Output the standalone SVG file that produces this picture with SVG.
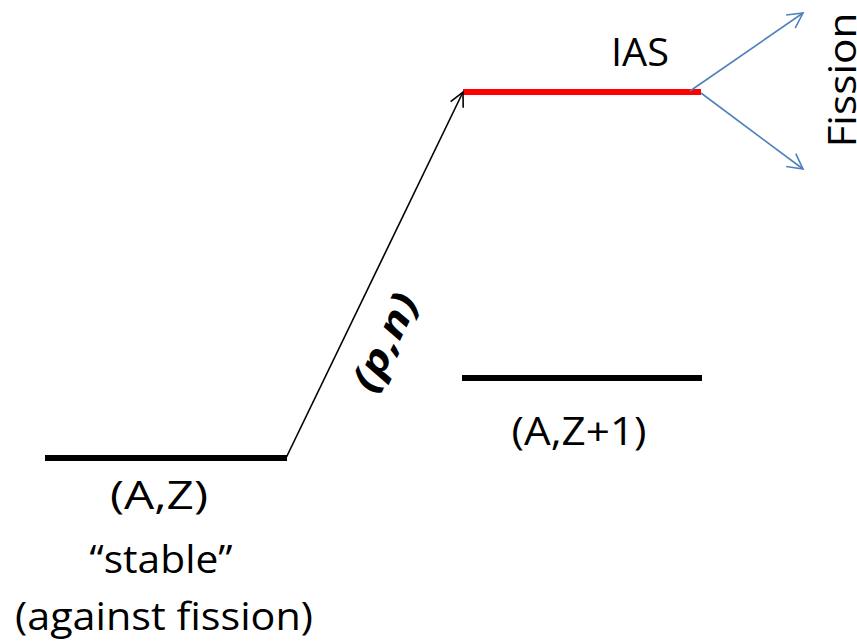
<svg xmlns="http://www.w3.org/2000/svg" width="857" height="642" viewBox="0 0 857 642">
  <defs>
    <marker id="ahBlack" markerUnits="userSpaceOnUse" markerWidth="24" markerHeight="24" refX="16" refY="8" orient="auto" overflow="visible">
      <path d="M2,1 L16,8 L2,15" fill="none" stroke="#000" stroke-width="1.6"/>
    </marker>
    <marker id="ahBlue" markerUnits="userSpaceOnUse" markerWidth="24" markerHeight="24" refX="16" refY="8" orient="auto" overflow="visible">
      <path d="M1,0 L16,8 L1,16" fill="none" stroke="#4f81bd" stroke-width="1.6"/>
    </marker>
    <style>
      .lbl { font-family: "Open Sans", "Noto Sans", "Liberation Sans", sans-serif; font-size: 38px; fill: #000; }
      .lvl { stroke: #000; stroke-width: 6; }
      .ias { stroke: #ff0000; stroke-width: 6; }
      .arr { fill: none; stroke: #000; stroke-width: 1.6; }
      .fis { fill: none; stroke: #4f81bd; stroke-width: 1.6; }
    </style>
  </defs>
  <rect width="857" height="642" fill="#fff"/>

  <g id="level-AZ">
    <line class="lvl" x1="45" y1="458" x2="287" y2="458"/>
    <text class="lbl" x="159" y="509" text-anchor="middle" textLength="98" lengthAdjust="spacingAndGlyphs">(A,Z)</text>
    <text class="lbl" x="161" y="573" text-anchor="middle" textLength="143" lengthAdjust="spacingAndGlyphs">“stable”</text>
    <text class="lbl" x="164" y="630" text-anchor="middle" textLength="298" lengthAdjust="spacingAndGlyphs">(against fission)</text>
  </g>

  <g id="level-AZ1">
    <line class="lvl" x1="462" y1="378" x2="702" y2="378"/>
    <text class="lbl" x="579" y="445" text-anchor="middle" textLength="135" lengthAdjust="spacingAndGlyphs">(A,Z+1)</text>
  </g>

  <g id="level-IAS">
    <line class="ias" x1="463" y1="92" x2="701" y2="92"/>
    <text class="lbl" x="640" y="66" text-anchor="middle" textLength="58" lengthAdjust="spacingAndGlyphs">IAS</text>
  </g>

  <g id="fission-label">
    <text class="lbl" transform="translate(856,80) rotate(-90)" x="0" y="0" text-anchor="middle" textLength="135" lengthAdjust="spacingAndGlyphs">Fission</text>
  </g>

  <g id="connectors">
    <line class="arr" x1="286" y1="458" x2="463" y2="92" marker-end="url(#ahBlack)"/>
    <text class="lbl" transform="translate(385,342) rotate(-64)" x="0" y="13" text-anchor="middle" font-size="42" font-weight="bold" font-style="italic" textLength="104" lengthAdjust="spacingAndGlyphs">(p,n)</text>
    <line class="fis" x1="690" y1="91" x2="803" y2="13" marker-end="url(#ahBlue)"/>
    <line class="fis" x1="701" y1="93" x2="803" y2="169" marker-end="url(#ahBlue)"/>
  </g>
</svg>
